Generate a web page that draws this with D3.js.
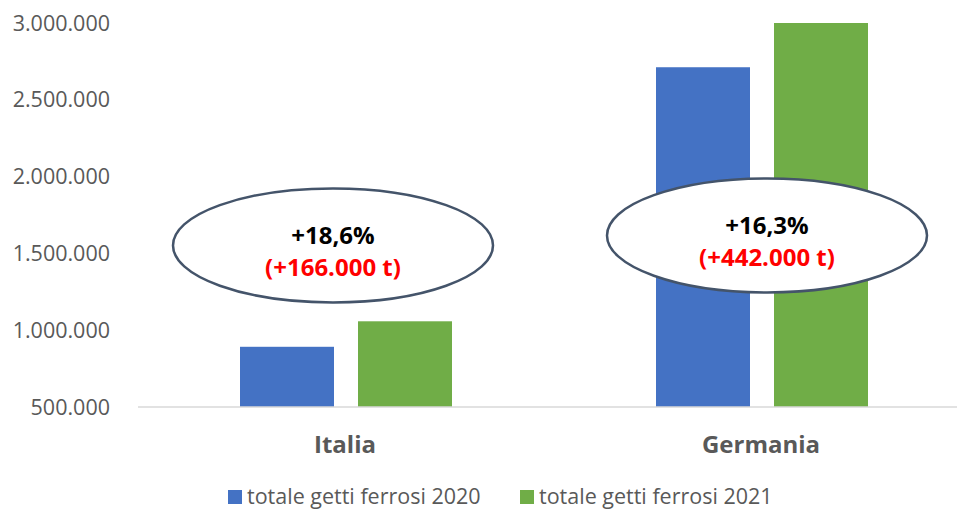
<!DOCTYPE html>
<html><head><meta charset="utf-8">
<script src="https://cdn.jsdelivr.net/npm/d3@7"></script>
<style>
html,body{margin:0;padding:0;background:#fff;overflow:hidden;}
svg{display:block;font-family:"Open Sans","Noto Sans",sans-serif;}
</style></head>
<body><svg id="c" width="957" height="510"></svg>
<script>
const categories = ["Italia", "Germania"];
const seriesNames = ["totale getti ferrosi 2020", "totale getti ferrosi 2021"];
const values2020 = [892000, 2712000];
const values2021 = [1058000, 3154000];
const yTicks = [500000, 1000000, 1500000, 2000000, 2500000, 3000000];
const pctLabels = ["+18,6%", "+16,3%"];
const deltaLabels = ["(+166.000 t)", "(+442.000 t)"];

const colors = ["#4472C4", "#70AD47"];
const svg = d3.select("#c");
const x = d3.scaleBand().domain(categories).range([138, 970]).paddingInner(0).paddingOuter(0);
const y = d3.scaleLinear().domain([500000, 3000000]).range([407, 23]).clamp(true);
const barW = 94, gap = 24;
const fmt = v => d3.format(",")(v).replace(/,/g, ".");

// y axis labels
svg.append("g").selectAll("text").data(yTicks).join("text")
  .attr("x", 110).attr("y", d => y(d)).attr("dy", "0.35em")
  .attr("text-anchor", "end").attr("font-size", 21.5).attr("fill", "#595959")
  .text(fmt);

const series = [values2020, values2021];
series.forEach((vals, si) => {
  svg.append("g").selectAll("rect").data(categories).join("rect")
    .attr("x", (c) => x(c) + x.bandwidth()/2 + (si === 0 ? -gap/2 - barW : gap/2))
    .attr("width", barW)
    .attr("y", (c, i) => y(vals[i]))
    .attr("height", (c, i) => y(500000) - y(vals[i]))
    .attr("fill", colors[si]);
});

// baseline
svg.append("line").attr("x1", 138).attr("x2", 957).attr("y1", y(500000)).attr("y2", y(500000))
  .attr("stroke", "#d9d9d9").attr("stroke-width", 1.5);

// category labels
svg.append("g").selectAll("text").data(categories).join("text")
  .attr("x", c => x(c) + x.bandwidth()/2 - 1).attr("y", 445).attr("dy", "0.35em")
  .attr("text-anchor", "middle").attr("font-size", 24).attr("font-weight", "bold").attr("fill", "#595959")
  .text(c => c);

// annotations
const annot = [{dx: -13, cy: 1552000}, {dx: 5, cy: 1617000}];
categories.forEach((c, i) => {
  const cx = x(c) + x.bandwidth()/2 + annot[i].dx;
  const cy = y(annot[i].cy);
  svg.append("ellipse").attr("cx", cx).attr("cy", cy).attr("rx", 160).attr("ry", 57)
    .attr("fill", "#fff").attr("stroke", "#44546A").attr("stroke-width", 2.5);
  svg.append("text").attr("x", cx).attr("y", cy - 10).attr("dy", "0.35em").attr("text-anchor", "middle")
    .attr("font-size", 24).attr("font-weight", "bold").attr("fill", "#000").text(pctLabels[i]);
  svg.append("text").attr("x", cx).attr("y", cy + 22).attr("dy", "0.35em").attr("text-anchor", "middle")
    .attr("font-size", 24).attr("font-weight", "bold").attr("fill", "#FF0000").text(deltaLabels[i]);
});

// legend
const legX = [228, 520];
seriesNames.forEach((n, i) => {
  svg.append("rect").attr("x", legX[i]).attr("y", 490).attr("width", 14).attr("height", 14).attr("fill", colors[i]);
  svg.append("text").attr("x", legX[i] + 19).attr("y", 504)
    .attr("font-size", 21.5).attr("fill", "#595959").text(n);
});
</script></body></html>
